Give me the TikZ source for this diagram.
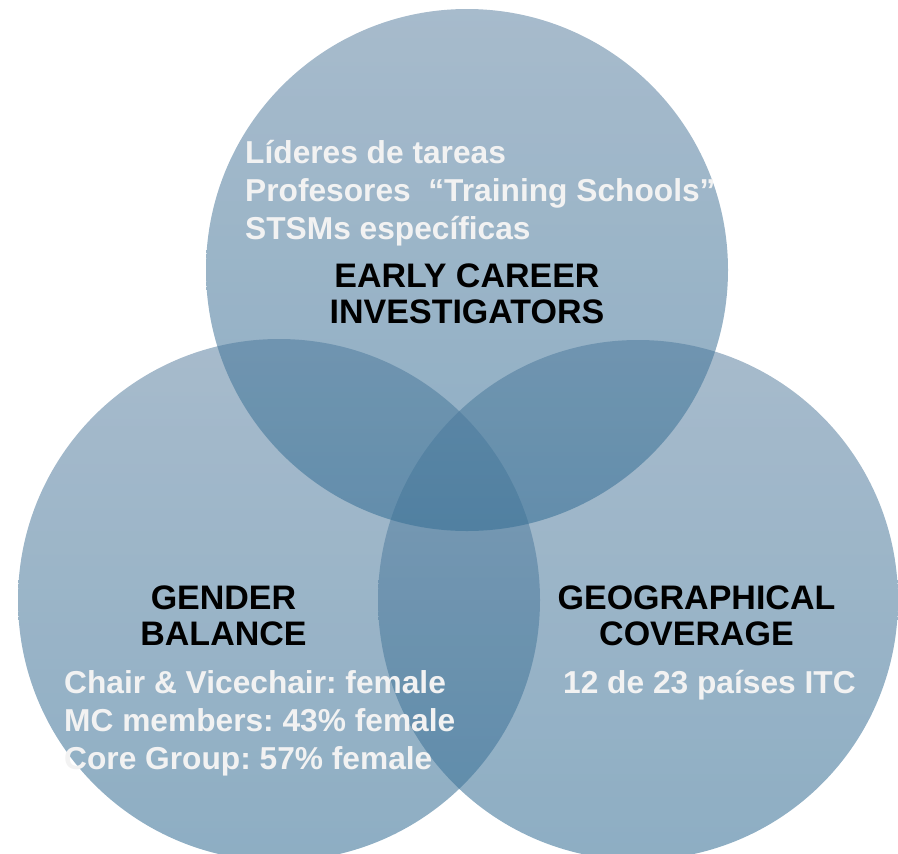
\documentclass[tikz,border=0pt]{standalone}
\usepackage{fontspec}
\setmainfont{Liberation Sans}
\frenchspacing
\definecolor{ctop}{RGB}{100,135,165}
\definecolor{cbot}{RGB}{55,112,150}
\definecolor{wtext}{RGB}{242,242,242}
\begin{document}
\begin{tikzpicture}[x=1bp,y=-1bp,
  venn/.style={top color=ctop,bottom color=cbot,fill opacity=0.57},
  head/.style={font=\fontsize{34bp}{36bp}\selectfont\bfseries,text=black,align=center,inner sep=0pt},
  info/.style={font=\fontsize{31.7bp}{38bp}\selectfont\bfseries,text=wtext,align=left,inner sep=0pt}]
\useasboundingbox (0,0) rectangle (898,854);
\shade[venn] (279,600) circle[radius=261];
\shade[venn] (638,600) circle[radius=260];
\shade[venn] (467,270) circle[radius=261];
\node[head,anchor=base] (eci) at (467,323) {EARLY CAREER\\INVESTIGATORS};
\node[head,anchor=base] (gb) at (223.5,645) {GENDER\\BALANCE};
\node[head,anchor=base] (gc) at (696.5,645) {GEOGRAPHICAL\\COVERAGE};
\node[info,anchor=base west] (eciinfo) at (245,239) {Líderes de tareas\\Profesores \ “Training Schools”\\STSMs específicas};
\node[info,anchor=base west] (gbinfo) at (64,769) {Chair \& Vicechair: female\\MC members: 43\% female\\Core Group: 57\% female};
\node[info,anchor=base west] (gcinfo) at (563,693) {12 de 23 países ITC};
\end{tikzpicture}
\end{document}
